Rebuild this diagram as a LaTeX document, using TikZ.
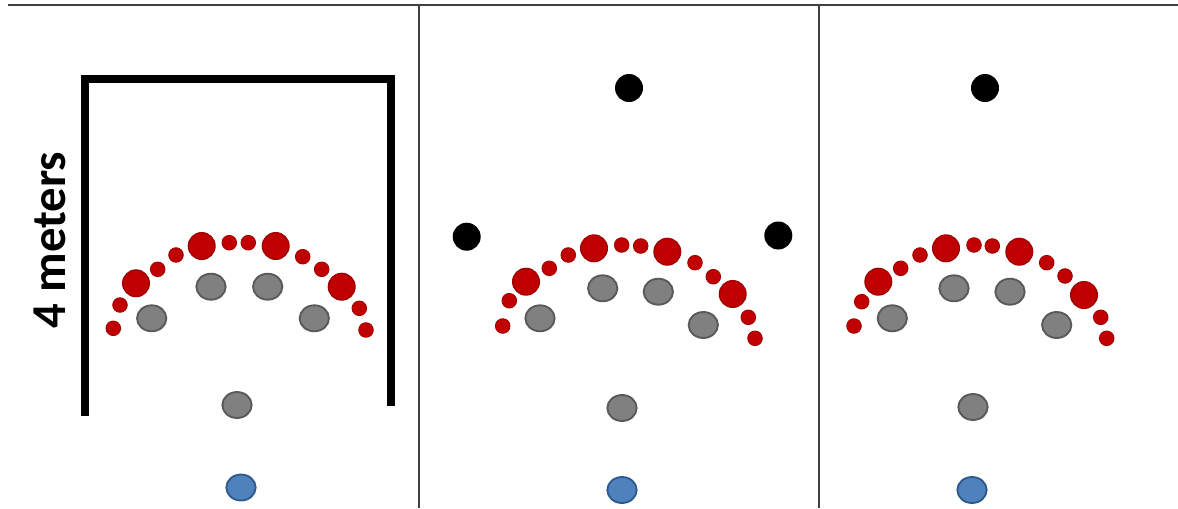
\documentclass[tikz,border=0pt]{standalone}
\usepackage{fontspec}
\setmainfont{Carlito}
\usetikzlibrary{shapes.geometric}
\definecolor{dotred}{HTML}{C00000}
\definecolor{dotredline}{HTML}{A00000}
\definecolor{dotgrey}{HTML}{808080}
\definecolor{dotgreyline}{HTML}{595959}
\definecolor{dotblue}{HTML}{4F81BD}
\definecolor{dotblueline}{HTML}{2F5A8E}
\tikzset{
  rs/.style={circle, fill=dotred, draw=dotredline, line width=0.6pt, inner sep=0pt, minimum size=11pt},
  rl/.style={circle, fill=dotred, draw=dotredline, line width=1pt, inner sep=0pt, minimum size=20pt},
  gr/.style={ellipse, fill=dotgrey, draw=dotgreyline, line width=1.4pt, inner sep=0pt, minimum width=22pt, minimum height=19.5pt},
  bl/.style={ellipse, fill=dotblue, draw=dotblueline, line width=1.4pt, inner sep=0pt, minimum width=22pt, minimum height=19.5pt},
  bk/.style={circle, fill=black, inner sep=0pt, minimum size=21pt},
  sep/.style={draw=black!75, line width=0.8pt},
  wall/.style={line width=6pt, line cap=butt, line join=miter}
}
\begin{document}
\begin{tikzpicture}[x=0.75pt, y=-0.75pt]
\useasboundingbox (0,0) rectangle (1178,508);
% frame lines
\coordinate (tl) at (8,5);
\coordinate (tr) at (1178,5);
\draw[sep] (tl) -- (tr);
\coordinate (s1t) at (419,5); \coordinate (s1b) at (419,508);
\coordinate (s2t) at (819,5); \coordinate (s2b) at (819,508);
\draw[sep] (s1t) -- (s1b);
\draw[sep] (s2t) -- (s2b);
% wall bracket panel 1
\coordinate (w1) at (85,416); \coordinate (w2) at (85,79);
\coordinate (w3) at (391,79); \coordinate (w4) at (391,406);
\draw[wall] (w1) -- (w2) -- (w3) -- (w4);
\node[rotate=90, font=\bfseries, anchor=center, inner sep=0pt] (lab) at (50,240) {\fontsize{36.5}{40}\selectfont 4 meters};
% panel 1 dots
\node[rs] (a1) at (113.3,328.3) {};
\node[rs] (a2) at (120,305) {};
\node[rl] (a3) at (136,283.3) {};
\node[rs] (a4) at (157.7,269.3) {};
\node[rs] (a5) at (176,255) {};
\node[rl] (a6) at (201.7,246) {};
\node[rs] (a7) at (229.3,242.7) {};
\node[rs] (a8) at (248.3,242.7) {};
\node[rl] (a9) at (275.7,246) {};
\node[rs] (a10) at (302.7,256.7) {};
\node[rs] (a11) at (321.7,269.3) {};
\node[rl] (a12) at (341.7,286.7) {};
\node[rs] (a13) at (359.3,308.3) {};
\node[rs] (a14) at (366,330) {};
\node[gr] (ag1) at (151.7,318.3) {};
\node[gr] (ag2) at (211,286.7) {};
\node[gr] (ag3) at (267.7,286.7) {};
\node[gr] (ag4) at (314.3,318.3) {};
\node[gr] (ag5) at (237,405) {};
\node[bl] (ab) at (241,487.5) {};
% panel 2
\node[bk] (bk1) at (629,88) {};
\node[bk] (bk2) at (466.7,236.7) {};
\node[bk] (bk3) at (778.3,235.5) {};
\node[rs] (b1) at (502.7,326) {};
\node[rs] (b2) at (509.3,300.7) {};
\node[rl] (b3) at (526,281.7) {};
\node[rs] (b4) at (549.3,268.3) {};
\node[rs] (b5) at (568.3,255) {};
\node[rl] (b6) at (594,248.3) {};
\node[rs] (b7) at (621.7,245) {};
\node[rs] (b8) at (640.7,246) {};
\node[rl] (b9) at (667.3,251.7) {};
\node[rs] (b10) at (695,262.7) {};
\node[rs] (b11) at (713.3,276.7) {};
\node[rl] (b12) at (732.7,294) {};
\node[rs] (b13) at (748.3,317.3) {};
\node[rs] (b14) at (755,338.3) {};
\node[gr] (bg1) at (540,318.3) {};
\node[gr] (bg2) at (602.7,288.3) {};
\node[gr] (bg3) at (658.3,291.7) {};
\node[gr] (bg4) at (703.3,325) {};
\node[gr] (bg5) at (622,408) {};
\node[bl] (bb) at (622,490) {};
% panel 3
\node[bk] (ck1) at (985,88) {};
\node[rs] (c1) at (854,326) {};
\node[rs] (c2) at (861.7,301.7) {};
\node[rl] (c3) at (878.3,281.7) {};
\node[rs] (c4) at (900.7,268.3) {};
\node[rs] (c5) at (920,255) {};
\node[rl] (c6) at (946,248.3) {};
\node[rs] (c7) at (974,245) {};
\node[rs] (c8) at (992.3,246) {};
\node[rl] (c9) at (1019.3,251.7) {};
\node[rs] (c10) at (1046.7,262.7) {};
\node[rs] (c11) at (1065,276) {};
\node[rl] (c12) at (1084,295) {};
\node[rs] (c13) at (1100.7,317.3) {};
\node[rs] (c14) at (1106.7,338.3) {};
\node[gr] (cg1) at (892.3,318.3) {};
\node[gr] (cg2) at (954,288.3) {};
\node[gr] (cg3) at (1010,291.7) {};
\node[gr] (cg4) at (1056.7,325) {};
\node[gr] (cg5) at (973,407) {};
\node[bl] (cb) at (972,490) {};
\end{tikzpicture}
\end{document}
